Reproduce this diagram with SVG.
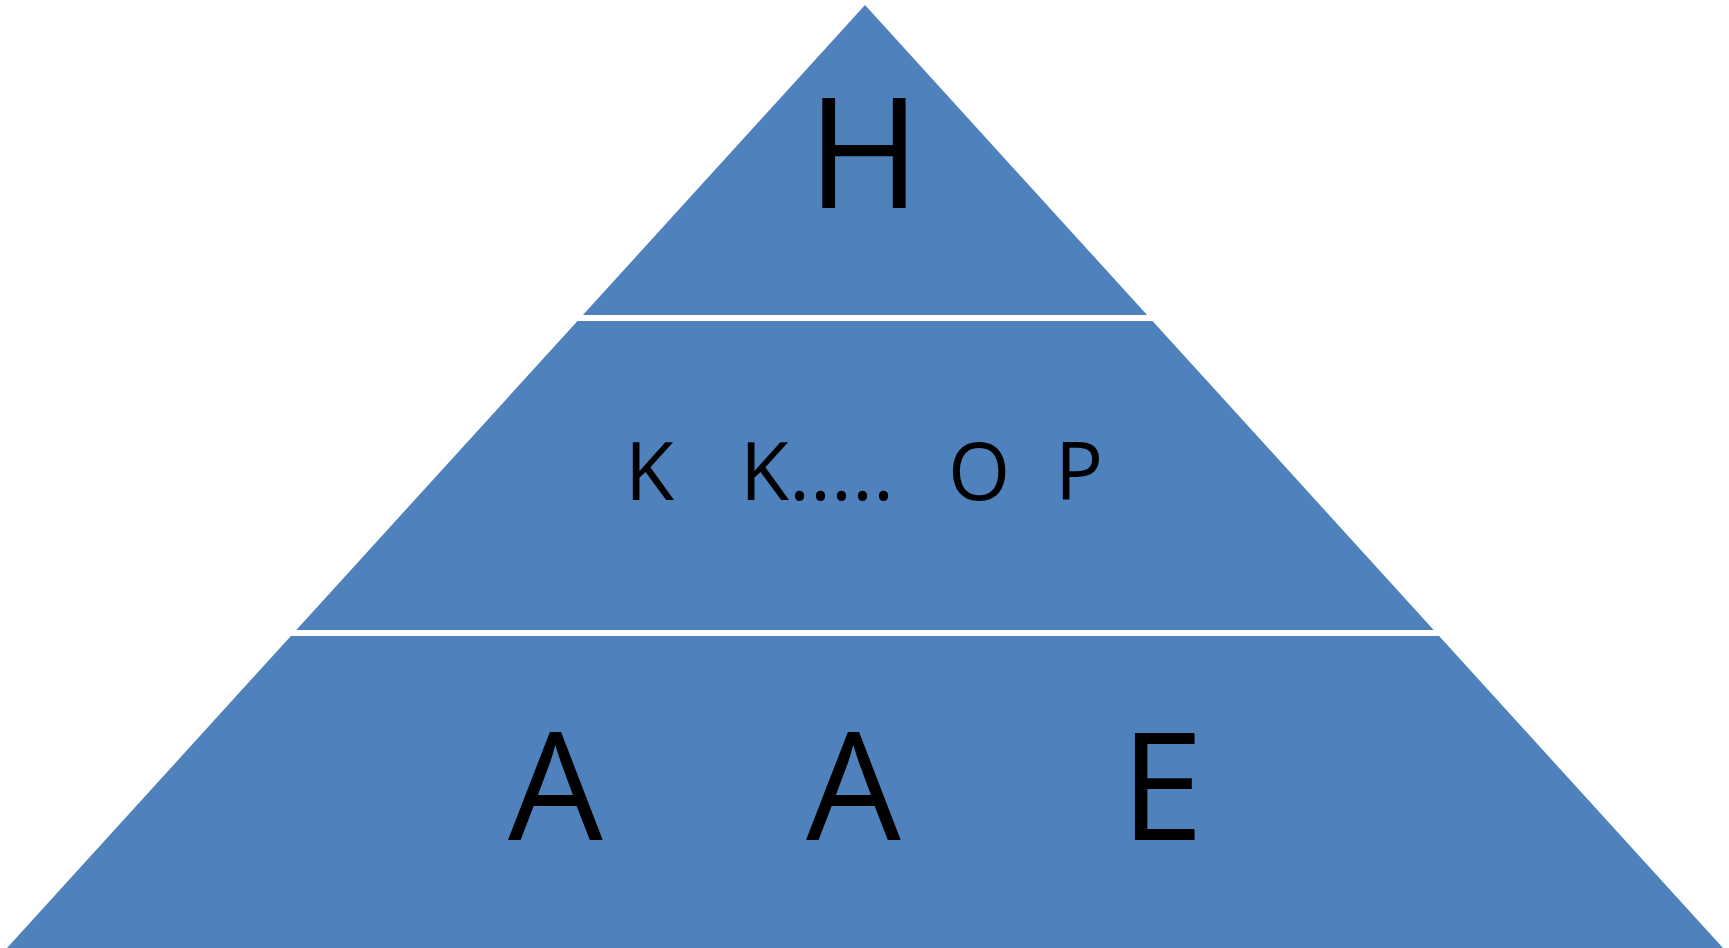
<svg xmlns="http://www.w3.org/2000/svg" width="1729" height="948" viewBox="0 0 1729 948">
  <style>
    .band { fill: #4F81BD; }
    .lbl { font-family: "Open Sans", "Liberation Sans", sans-serif; fill: #000000; }
  </style>
  <rect x="0" y="0" width="1729" height="948" fill="#FFFFFF"/>
  <g id="level-top">
    <polygon class="band" points="865,5 1147.1,315 582.9,315"/>
    <text class="lbl" x="864" y="208" font-size="154" text-anchor="middle">H</text>
  </g>
  <g id="level-middle">
    <polygon class="band" points="577.5,321 1152.5,321 1433.7,630 296.3,630"/>
    <text class="lbl" y="500" font-size="80"><tspan x="625">K</tspan> <tspan x="740">K.....</tspan> <tspan x="948">O</tspan> <tspan x="1055">P</tspan></text>
  </g>
  <g id="level-bottom">
    <polygon class="band" points="290.9,636 1439.1,636 1723,948 7,948"/>
    <text class="lbl" y="840" font-size="150" text-anchor="middle"><tspan x="575">A</tspan> <tspan x="873">A</tspan> <tspan x="1162">E</tspan></text>
  </g>
  <g id="connectors"/>
</svg>
